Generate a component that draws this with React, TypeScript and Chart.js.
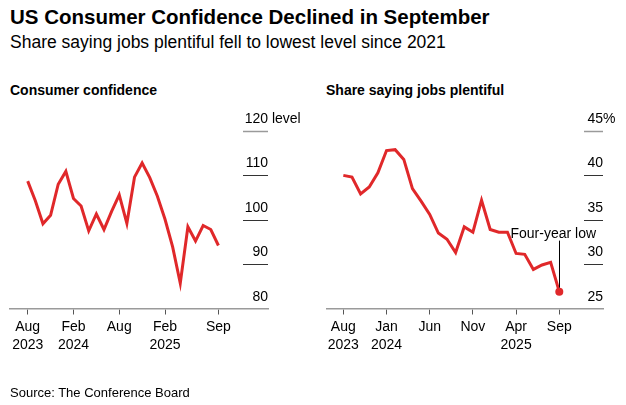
import React, { useEffect, useRef } from "react";
import { Chart, registerables } from "chart.js";

Chart.register(...registerables);

const FONT = '"Liberation Sans", Arial, Helvetica, sans-serif';
const RED = "#e0282a";

// Months Aug 2023 .. Sep 2025 (index 0..25)
const months = [
  "Aug 2023", "Sep 2023", "Oct 2023", "Nov 2023", "Dec 2023",
  "Jan 2024", "Feb 2024", "Mar 2024", "Apr 2024", "May 2024", "Jun 2024",
  "Jul 2024", "Aug 2024", "Sep 2024", "Oct 2024", "Nov 2024", "Dec 2024",
  "Jan 2025", "Feb 2025", "Mar 2025", "Apr 2025", "May 2025", "Jun 2025",
  "Jul 2025", "Aug 2025", "Sep 2025",
];

const confidence = [
  108.7, 104.3, 99.1, 101.0, 108.0, 110.9, 104.8, 103.1, 97.5, 101.3, 97.8,
  101.9, 105.6, 99.2, 109.6, 112.8, 109.5, 105.3, 100.1, 93.9, 85.7, 98.4,
  95.2, 98.7, 97.8, 94.2,
];

const jobsPlentiful = [
  40.0, 39.8, 37.9, 38.7, 40.3, 42.8, 42.9, 41.8, 38.5, 37.1, 35.6, 33.5,
  32.8, 31.3, 34.2, 33.6, 37.2, 33.9, 33.6, 33.6, 31.2, 31.1, 29.4, 29.9,
  30.2, 26.9,
];

const leftTickIdx = [0, 6, 12, 18, 25];
const leftTickLabels: (string | string[])[] = [
  ["Aug", "2023"], ["Feb", "2024"], "Aug", ["Feb", "2025"], "Sep",
];
const rightTickIdx = [0, 5, 10, 15, 20, 25];
const rightTickLabels: (string | string[])[] = [
  ["Aug", "2023"], ["Jan", "2024"], "Jun", "Nov", ["Apr", "2025"], "Sep",
];

const leftYTicks = [80, 90, 100, 110, 120];
const rightYTicks = [25, 30, 35, 40, 45];

const yLabelPlugin = {
  id: "yLabels",
  afterDraw(chart: any, _args: any, opts: any) {
    const { ctx, chartArea } = chart;
    const y = chart.scales.y;
    const vals: number[] = opts.values;
    ctx.save();
    ctx.font = `14px ${FONT}`;
    ctx.fillStyle = "#000";
    vals.forEach((v, i) => {
      const py = y.getPixelForValue(v);
      const last = i === vals.length - 1;
      if (i > 0) {
        ctx.beginPath();
        ctx.strokeStyle = last ? "#9a9a9a" : "#333";
        ctx.lineWidth = last ? 1.5 : 1;
        ctx.moveTo(chartArea.right - opts.len, Math.round(py) + 0.5);
        ctx.lineTo(chartArea.right, Math.round(py) + 0.5);
        ctx.stroke();
      }
      ctx.textAlign = "right";
      ctx.textBaseline = "alphabetic";
      ctx.fillText(String(v), chartArea.right, py - 8);
      if (last && opts.suffix) {
        ctx.textAlign = "left";
        ctx.fillText(opts.suffix, chartArea.right, py - 8);
      }
    });
    ctx.restore();
  },
};

const annotationPlugin = {
  id: "lowNote",
  afterDatasetsDraw(chart: any, _args: any, opts: any) {
    if (!opts || !opts.enabled) return;
    const meta = chart.getDatasetMeta(0);
    const pt = meta.data[opts.index];
    if (!pt) return;
    const { ctx } = chart;
    ctx.save();
    ctx.beginPath();
    ctx.strokeStyle = "#000";
    ctx.lineWidth = 1;
    ctx.moveTo(Math.round(pt.x) + 0.5, pt.y - 51);
    ctx.lineTo(Math.round(pt.x) + 0.5, pt.y - 4);
    ctx.stroke();
    ctx.font = `14px ${FONT}`;
    ctx.fillStyle = "#000";
    ctx.textAlign = "center";
    ctx.textBaseline = "alphabetic";
    ctx.fillText(opts.text, pt.x - 6, pt.y - 54);
    ctx.restore();
  },
};

function makeConfig(
  data: number[],
  tickIdx: number[],
  tickLabels: (string | string[])[],
  xMin: number,
  xMax: number,
  yMin: number,
  yMax: number,
  padding: any,
  yTicks: number[],
  suffix: string,
  gridLen: number,
  note: boolean
): any {
  return {
    type: "line",
    data: {
      labels: months,
      datasets: [
        {
          data: data.map((v, i) => ({ x: i, y: v })),
          borderColor: RED,
          backgroundColor: RED,
          borderWidth: 3,
          tension: 0,
          pointRadius: data.map((_, i) => (note && i === data.length - 1 ? 4 : 0)),
          pointBorderWidth: 0,
          pointBackgroundColor: RED,
          borderJoinStyle: "miter",
        },
      ],
    },
    options: {
      responsive: false,
      animation: false,
      layout: { padding },
      plugins: {
        legend: { display: false },
        tooltip: { enabled: false },
        yLabels: { values: yTicks, suffix, len: gridLen },
        lowNote: { enabled: note, index: data.length - 1, text: "Four-year low" },
      },
      scales: {
        x: {
          type: "linear",
          min: xMin,
          max: xMax,
          afterBuildTicks: (axis: any) => {
            axis.ticks = tickIdx.map((v) => ({ value: v }));
          },
          afterFit: (axis: any) => {
            axis.height = 50;
          },
          grid: {
            drawOnChartArea: false,
            drawTicks: true,
            tickLength: 6,
            color: "#555",
            lineWidth: 1,
          },
          border: { display: true, color: "#9a9a9a", width: 1.5 },
          ticks: {
            autoSkip: false,
            maxRotation: 0,
            padding: 4,
            color: "#000",
            font: { family: FONT, size: 14, lineHeight: 18 / 14 },
            callback: (value: any) => {
              const k = tickIdx.indexOf(Number(value));
              return k >= 0 ? tickLabels[k] : "";
            },
          },
        },
        y: {
          type: "linear",
          display: false,
          min: yMin,
          max: yMax,
        },
      },
    },
    plugins: [yLabelPlugin, annotationPlugin],
  };
}

export default function App() {
  const leftRef = useRef<HTMLCanvasElement | null>(null);
  const rightRef = useRef<HTMLCanvasElement | null>(null);

  useEffect(() => {
    const left = new Chart(
      leftRef.current as HTMLCanvasElement,
      makeConfig(
        confidence, leftTickIdx, leftTickLabels,
        -2.32, 31.5, 80, 120,
        { left: 10, right: 358, top: 131, bottom: 46.5 },
        leftYTicks, " level", 25, false
      )
    );
    const right = new Chart(
      rightRef.current as HTMLCanvasElement,
      makeConfig(
        jobsPlentiful, rightTickIdx, rightTickLabels,
        -1.89, 30.06, 25, 45,
        { left: 327, right: 23, top: 131, bottom: 46.5 },
        rightYTicks, "%", 19, true
      )
    );
    return () => {
      left.destroy();
      right.destroy();
    };
  }, []);

  const abs = (top: number, left: number, size: number, bold: boolean): React.CSSProperties => ({
    position: "absolute",
    top,
    left,
    fontFamily: FONT,
    fontSize: size,
    lineHeight: `${size}px`,
    fontWeight: bold ? 700 : 400,
    color: "#000",
    whiteSpace: "nowrap",
    margin: 0,
  });

  return (
    <div
      style={{
        position: "fixed",
        top: 0,
        left: 0,
        width: 626,
        height: 405,
        background: "#fff",
        overflow: "hidden",
      }}
    >
      <div style={abs(6.6, 10, 20.5, true)}>US Consumer Confidence Declined in September</div>
      <div style={abs(33.5, 10, 17.5, false)}>Share saying jobs plentiful fell to lowest level since 2021</div>
      <div style={abs(83.2, 10, 14, true)}>Consumer confidence</div>
      <div style={abs(83.2, 326, 14, true)}>Share saying jobs plentiful</div>
      <canvas
        ref={leftRef}
        width={626}
        height={405}
        style={{ position: "absolute", top: 0, left: 0, width: 626, height: 405 }}
      />
      <canvas
        ref={rightRef}
        width={626}
        height={405}
        style={{ position: "absolute", top: 0, left: 0, width: 626, height: 405 }}
      />
      <div style={abs(385.7, 10, 13, false)}>Source: The Conference Board</div>
    </div>
  );
}
